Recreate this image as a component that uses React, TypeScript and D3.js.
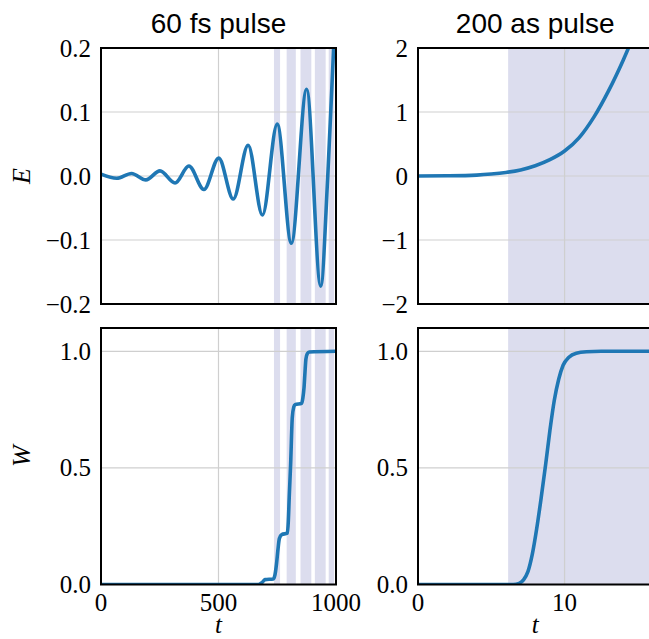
import React from 'react';
import * as d3 from 'd3';

// ---- data ----
const tE60 = [0, 67, 130, 191, 251, 315, 374, 438, 501, 563, 626, 687, 750, 810, 875, 935, 965, 990, 1000];
const E60 = [0.003, -0.0036, 0.004, -0.006, 0.008, -0.011, 0.0156, -0.021, 0.028, -0.036, 0.048, -0.061, 0.081, -0.105, 0.1355, -0.172, 0.0, 0.2, 0.27];

const tW60 = [0, 670, 685, 698, 733, 740, 747, 753, 759, 769, 793, 797, 801, 807, 814, 820, 826, 854, 859, 864, 868, 872, 878, 886, 1000];
const W60 = [0, 0, 0.008, 0.021, 0.024, 0.04, 0.09, 0.15, 0.197, 0.214, 0.22, 0.27, 0.375, 0.518, 0.717, 0.76, 0.771, 0.777, 0.8, 0.845, 0.91, 0.967, 0.99, 0.997, 1];

const bandStart60 = [736, 790, 849, 910, 969];
const bandEnd60 = [762, 829, 895, 956, 992];

const tE200 = [0, 2, 4, 5, 6, 7, 8, 9, 10, 11, 12, 13, 14, 15, 16];
const E200 = [0, 0.003, 0.014, 0.03, 0.055, 0.095, 0.16, 0.255, 0.39, 0.6, 0.92, 1.33, 1.81, 2.35, 2.9];

const tW200 = [0, 6.5, 6.9, 7.2, 7.5, 7.8, 8.1, 8.4, 8.7, 9.0, 9.3, 9.6, 9.9, 10.3, 10.8, 11.5, 12.5, 16];
const W200 = [0, 0, 0.005, 0.02, 0.055, 0.13, 0.24, 0.37, 0.51, 0.66, 0.79, 0.88, 0.94, 0.975, 0.992, 0.998, 1, 1];

const bandStart200 = [6.15];
const bandEnd200 = [16];

const titles = ['60 fs pulse', '200 as pulse'];
const xTicks60 = [0, 500, 1000];
const xTicks200 = [0, 10];
const yTicksE60 = [-0.2, -0.1, 0, 0.1, 0.2];
const yTicksE200 = [-2, -1, 0, 1, 2];
const yTicksW = [0, 0.5, 1.0];

const LINE = '#1f77b4';
const BAND = '#dcddee';
const GRID = '#cfcfcf';
const SERIF = '"Liberation Serif", "DejaVu Serif", serif';
const SANS = '"Liberation Sans", Arial, sans-serif';

type PanelProps = {
  id: string;
  left: number; right: number; top: number; bottom: number;
  xDomain: [number, number]; yDomain: [number, number];
  xTicks: number[]; yTicks: number[];
  yFmt: (v: number) => string;
  showXLabels: boolean;
  bStart: number[]; bEnd: number[];
  ts: number[]; vs: number[];
};

function Panel(p: PanelProps) {
  const x = d3.scaleLinear().domain(p.xDomain).range([p.left, p.right]);
  const y = d3.scaleLinear().domain(p.yDomain).range([p.bottom, p.top]);
  const pts = p.ts.map((t, i) => [t, p.vs[i]] as [number, number]);
  const line = d3.line<[number, number]>()
    .x(d => x(d[0]))
    .y(d => y(d[1]))
    .curve(d3.curveMonotoneX);
  return (
    <g>
      <defs>
        <clipPath id={p.id}>
          <rect x={p.left} y={p.top} width={p.right - p.left} height={p.bottom - p.top} />
        </clipPath>
      </defs>
      <g clipPath={`url(#${p.id})`}>
        {p.bStart.map((s, i) => (
          <rect key={i} x={x(s)} y={p.top} width={x(p.bEnd[i]) - x(s)} height={p.bottom - p.top} fill={BAND} />
        ))}
        {p.xTicks.map((t, i) => (
          <line key={'gx' + i} x1={x(t)} x2={x(t)} y1={p.top} y2={p.bottom} stroke={GRID} strokeWidth={1.2} />
        ))}
        {p.yTicks.map((t, i) => (
          <line key={'gy' + i} x1={p.left} x2={p.right} y1={y(t)} y2={y(t)} stroke={GRID} strokeWidth={1.2} />
        ))}
        <path d={line(pts) || ''} fill="none" stroke={LINE} strokeWidth={3.6} strokeLinejoin="round" />
      </g>
      <rect x={p.left} y={p.top} width={p.right - p.left} height={p.bottom - p.top} fill="none" stroke="#000" strokeWidth={2} />
      {p.yTicks.map((t, i) => (
        <text key={'ty' + i} x={p.left - 10} y={y(t) + 8.5} textAnchor="end" fontFamily={SERIF} fontSize={25} fill="#000">
          {p.yFmt(t)}
        </text>
      ))}
      {p.showXLabels && p.xTicks.map((t, i) => (
        <text key={'tx' + i} x={x(t)} y={p.bottom + 26} textAnchor="middle" fontFamily={SERIF} fontSize={25} fill="#000">
          {String(t)}
        </text>
      ))}
    </g>
  );
}

export default function App() {
  const L1 = 101, R1 = 336, L2 = 418, R2 = 652.5;
  const T1 = 48, B1 = 304, T2 = 328, B2 = 584.5;
  const f1 = d3.format('.1f');
  const f0 = d3.format('d');
  return (
    <svg width={649} height={639} style={{ position: 'absolute', left: 0, top: 0, background: '#fff' }}>
      <rect x={0} y={0} width={649} height={639} fill="#fff" />
      <Panel id="c1" left={L1} right={R1} top={T1} bottom={B1} xDomain={[0, 1000]} yDomain={[-0.2, 0.2]}
        xTicks={xTicks60} yTicks={yTicksE60} yFmt={f1} showXLabels={false}
        bStart={bandStart60} bEnd={bandEnd60} ts={tE60} vs={E60} />
      <Panel id="c2" left={L2} right={R2} top={T1} bottom={B1} xDomain={[0, 16]} yDomain={[-2, 2]}
        xTicks={xTicks200} yTicks={yTicksE200} yFmt={f0} showXLabels={false}
        bStart={bandStart200} bEnd={bandEnd200} ts={tE200} vs={E200} />
      <Panel id="c3" left={L1} right={R1} top={T2} bottom={B2} xDomain={[0, 1000]} yDomain={[0, 1.1]}
        xTicks={xTicks60} yTicks={yTicksW} yFmt={f1} showXLabels={true}
        bStart={bandStart60} bEnd={bandEnd60} ts={tW60} vs={W60} />
      <Panel id="c4" left={L2} right={R2} top={T2} bottom={B2} xDomain={[0, 16]} yDomain={[0, 1.1]}
        xTicks={xTicks200} yTicks={yTicksW} yFmt={f1} showXLabels={true}
        bStart={bandStart200} bEnd={bandEnd200} ts={tW200} vs={W200} />
      <text x={(L1 + R1) / 2} y={33} textAnchor="middle" fontFamily={SANS} fontSize={28} fill="#000">{titles[0]}</text>
      <text x={(L2 + R2) / 2} y={33} textAnchor="middle" fontFamily={SANS} fontSize={28} fill="#000">{titles[1]}</text>
      <text transform={`translate(30,${(T1 + B1) / 2}) rotate(-90)`} textAnchor="middle" fontFamily={SERIF} fontStyle="italic" fontSize={26} fill="#000">E</text>
      <text transform={`translate(30,${(T2 + B2) / 2}) rotate(-90)`} textAnchor="middle" fontFamily={SERIF} fontStyle="italic" fontSize={26} fill="#000">W</text>
      <text x={(L1 + R1) / 2} y={633} textAnchor="middle" fontFamily={SERIF} fontStyle="italic" fontSize={25} fill="#000">t</text>
      <text x={(L2 + R2) / 2} y={633} textAnchor="middle" fontFamily={SERIF} fontStyle="italic" fontSize={25} fill="#000">t</text>
    </svg>
  );
}
